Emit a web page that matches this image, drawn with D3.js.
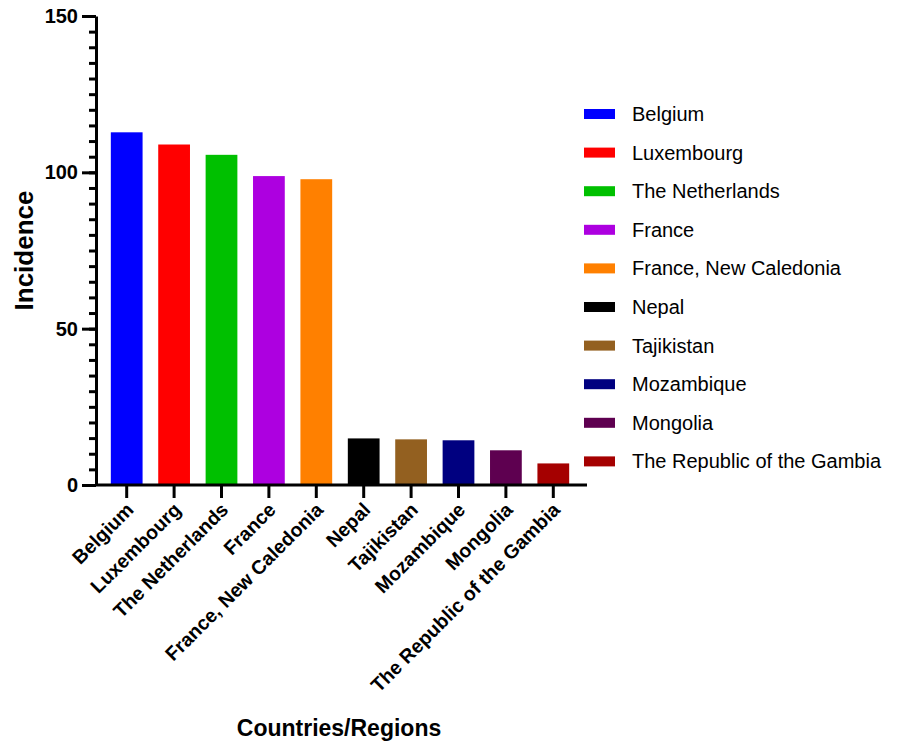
<!DOCTYPE html>
<html>
<head>
<meta charset="utf-8">
<script src="https://cdn.jsdelivr.net/npm/d3@7"></script>
<style>
  body { margin: 0; background: #fff; }
  svg { display: block; }
</style>
</head>
<body>
<div id="chart"></div>
<script>
// data
var countries = ["Belgium", "Luxembourg", "The Netherlands", "France", "France, New Caledonia",
                 "Nepal", "Tajikistan", "Mozambique", "Mongolia", "The Republic of the Gambia"];
var incidence = [112.8, 108.9, 105.6, 98.8, 97.8, 14.9, 14.6, 14.3, 11.1, 6.9];
var barColors = ["#0000ff", "#ff0000", "#00c000", "#ad00e0", "#ff8000",
                 "#000000", "#936020", "#000080", "#5e0050", "#a50000"];
var yTicks = [0, 50, 100, 150];

var W = 898, H = 745;
var font = "Arial, 'Liberation Sans', sans-serif";

var svg = d3.select("#chart").append("svg")
    .attr("width", W)
    .attr("height", H);

var y = d3.scaleLinear()
    .domain([0, 150])
    .range([485, 16]);

var x = d3.scaleBand()
    .domain(countries)
    .range([103, 577])
    .paddingInner(0.33)
    .paddingOuter(0.165);

var color = d3.scaleOrdinal().domain(countries).range(barColors);

var rows = countries.map(function(c, i) { return {name: c, value: incidence[i]}; });

// bars
svg.selectAll(".bar")
    .data(rows)
    .enter().append("rect")
    .attr("class", "bar")
    .attr("x", function(d) { return x(d.name); })
    .attr("width", x.bandwidth())
    .attr("y", function(d) { return y(d.value); })
    .attr("height", function(d) { return y(0) - y(d.value); })
    .style("fill", function(d) { return color(d.name); });

// minor ticks every 5
var minor = svg.append("g")
    .attr("transform", "translate(96,0)")
    .call(d3.axisLeft(y).tickValues(d3.range(0, 151, 5)).tickSize(7).tickSizeOuter(0).tickFormat(""));
minor.select(".domain").remove();
minor.selectAll("line").style("stroke", "#000").style("stroke-width", 3);

// y axis with major ticks
var yAxis = svg.append("g")
    .attr("transform", "translate(96,0)")
    .call(d3.axisLeft(y).tickValues(yTicks).tickSize(14).tickSizeOuter(0).tickPadding(4));
yAxis.select(".domain").style("stroke", "#000").style("stroke-width", 3);
yAxis.selectAll(".tick line").style("stroke", "#000").style("stroke-width", 3);
yAxis.selectAll(".tick text")
    .style("font-family", font)
    .style("font-size", "20px")
    .style("font-weight", "bold")
    .style("fill", "#000");

// x axis
var xAxis = svg.append("g")
    .attr("transform", "translate(0,485)")
    .call(d3.axisBottom(x).tickSize(13).tickSizeOuter(0));
xAxis.select(".domain").remove();
xAxis.selectAll(".tick line").style("stroke", "#000").style("stroke-width", 3);
xAxis.selectAll(".tick text")
    .attr("text-anchor", "end")
    .attr("dy", 0)
    .attr("y", 0)
    .attr("transform", "translate(8,26) rotate(-45)")
    .style("font-family", font)
    .style("font-size", "19.5px")
    .style("font-weight", "bold")
    .style("fill", "#000");

svg.append("line")
    .attr("x1", 95).attr("x2", 587)
    .attr("y1", 485).attr("y2", 485)
    .style("stroke", "#000")
    .style("stroke-width", 3);

// axis titles
svg.append("text")
    .attr("transform", "translate(33," + ((y(0) + y(150)) / 2) + ") rotate(-90)")
    .attr("text-anchor", "middle")
    .style("font-family", font)
    .style("font-size", "26px")
    .style("font-weight", "bold")
    .text("Incidence");

svg.append("text")
    .attr("x", 339)
    .attr("y", 736)
    .attr("text-anchor", "middle")
    .style("font-family", font)
    .style("font-size", "23px")
    .style("font-weight", "bold")
    .text("Countries/Regions");

// legend
var legend = svg.selectAll(".legend")
    .data(countries)
    .enter().append("g")
    .attr("class", "legend")
    .attr("transform", function(d, i) { return "translate(584," + (114 + i * 38.6) + ")"; });

legend.append("rect")
    .attr("x", 0)
    .attr("y", -5)
    .attr("width", 31)
    .attr("height", 10)
    .style("fill", function(d) { return color(d); });

legend.append("text")
    .attr("x", 48)
    .attr("y", 0)
    .attr("dy", "0.35em")
    .style("font-family", font)
    .style("font-size", "20px")
    .style("fill", "#000")
    .text(function(d) { return d; });
</script>
</body>
</html>
